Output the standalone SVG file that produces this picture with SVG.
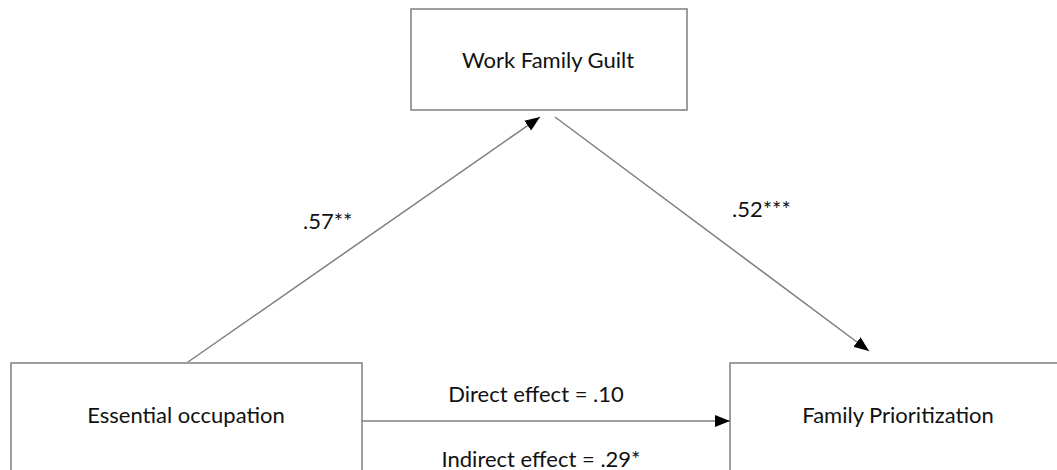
<svg xmlns="http://www.w3.org/2000/svg" width="1057" height="470" viewBox="0 0 1057 470">
<style>
.box{fill:#fff;stroke:#7f7f7f;stroke-width:1.5}
.edge{stroke:#7f7f7f;stroke-width:1.5;fill:none}
text{font-family:Lato,"Liberation Sans",sans-serif;font-size:22px;fill:#111}
</style>
<defs>
<marker id="arr" markerWidth="15" markerHeight="12" refX="15" refY="6" orient="auto" markerUnits="userSpaceOnUse">
<path d="M0,0 L15,6 L0,12 Z" fill="#000"/>
</marker>
</defs>
<rect width="1057" height="470" fill="#fff"/>
<g id="node-wfg">
<rect class="box" x="411" y="9" width="276" height="101"/>
<text x="548" y="68" text-anchor="middle">Work Family Guilt</text>
</g>
<g id="node-eo">
<rect class="box" x="11" y="363" width="351" height="120"/>
<text x="186" y="423" text-anchor="middle">Essential occupation</text>
</g>
<g id="node-fp">
<rect class="box" x="730" y="363" width="340" height="120"/>
<text x="898" y="423" text-anchor="middle">Family Prioritization</text>
</g>
<g id="connectors">
<line class="edge" x1="188" y1="362" x2="540" y2="117" marker-end="url(#arr)"/>
<line class="edge" x1="555" y1="117" x2="869" y2="351" marker-end="url(#arr)"/>
<line class="edge" x1="362" y1="421" x2="730" y2="421" marker-end="url(#arr)"/>
<text x="303" y="229">.57**</text>
<text x="732" y="217">.52***</text>
<text x="536" y="402" text-anchor="middle">Direct effect = .10</text>
<text x="541" y="467" text-anchor="middle">Indirect effect = .29*</text>
</g>
</svg>
